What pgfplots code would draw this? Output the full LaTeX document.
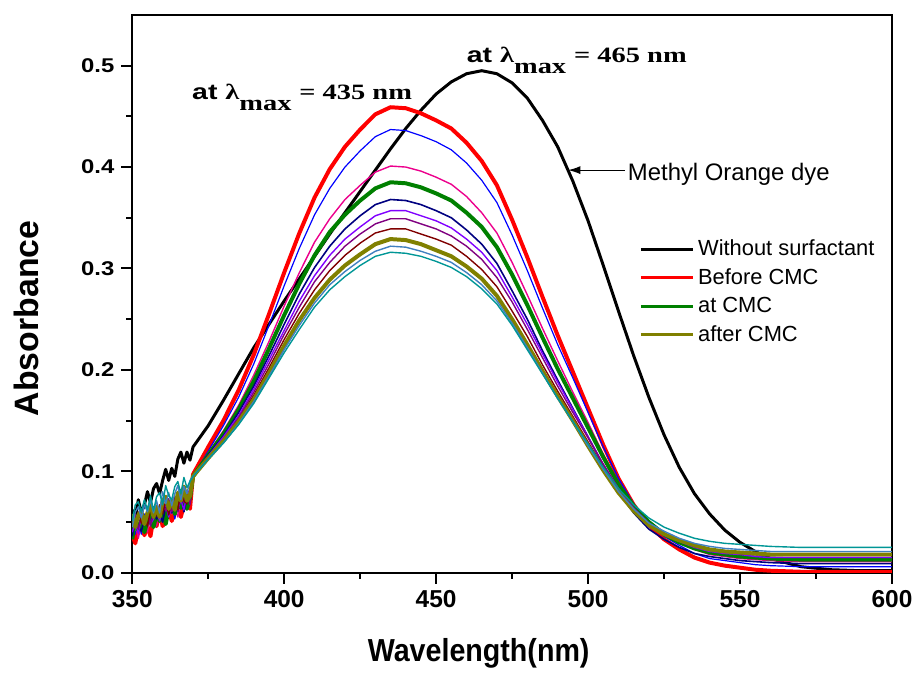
\documentclass[border=0pt]{standalone}
\usepackage{pgfplots}
\pgfplotsset{compat=1.18}
\usepackage{pgfplotstable}
\usepackage{fontspec}
\setmainfont{Liberation Sans}
\newfontfamily\serifw{Liberation Serif}[FakeStretch=1.3]
\newfontfamily\sansw{Liberation Sans}[FakeStretch=1.3]
\newfontfamily\ytickf{Liberation Sans}[FakeStretch=1.2]
\newfontfamily\labf{Liberation Sans}[FakeStretch=0.9]
\usetikzlibrary{arrows.meta}

\definecolor{cgreen}{RGB}{0,128,0}
\definecolor{cnavy}{RGB}{0,0,128}
\definecolor{cviolet}{RGB}{128,0,255}
\definecolor{cpurple}{RGB}{128,0,128}
\definecolor{cmaroon}{RGB}{128,0,0}
\definecolor{colive}{RGB}{128,128,0}
\definecolor{csteel}{RGB}{64,128,192}
\definecolor{cteal}{RGB}{0,150,150}

% k = ohne Tensid, r..t = mit Tensid (steigende Konzentration)
\pgfplotstableread{
wl  k     r     b     m     g     n     v     p     mr    o     s     t
350 0.062 0.038 0.050 0.035 0.033 0.036 0.040 0.049 0.056 0.058 0.045 0.051
351 0.055 0.029 0.038 0.049 0.053 0.056 0.049 0.058 0.044 0.045 0.060 0.067
352 0.072 0.044 0.049 0.034 0.042 0.045 0.039 0.043 0.060 0.057 0.065 0.070
353 0.059 0.049 0.038 0.048 0.052 0.041 0.056 0.056 0.049 0.060 0.054 0.060
354 0.067 0.037 0.058 0.052 0.040 0.054 0.048 0.049 0.056 0.048 0.067 0.072
355 0.080 0.046 0.047 0.040 0.051 0.059 0.062 0.062 0.046 0.059 0.060 0.062
356 0.069 0.036 0.057 0.060 0.060 0.047 0.048 0.046 0.062 0.068 0.072 0.076
357 0.083 0.054 0.045 0.049 0.045 0.063 0.053 0.060 0.065 0.055 0.059 0.061
358 0.088 0.046 0.056 0.046 0.059 0.053 0.065 0.066 0.056 0.065 0.071 0.075
359 0.078 0.061 0.065 0.058 0.051 0.059 0.051 0.055 0.067 0.055 0.059 0.079
360 0.091 0.046 0.050 0.064 0.065 0.050 0.064 0.068 0.058 0.071 0.080 0.067
361 0.102 0.052 0.064 0.051 0.048 0.065 0.067 0.061 0.071 0.075 0.068 0.086
362 0.091 0.064 0.056 0.068 0.063 0.069 0.055 0.073 0.057 0.063 0.079 0.076
363 0.103 0.051 0.070 0.058 0.068 0.059 0.066 0.060 0.070 0.071 0.066 0.072
364 0.095 0.063 0.053 0.064 0.058 0.071 0.075 0.072 0.075 0.062 0.078 0.085
365 0.112 0.067 0.068 0.055 0.070 0.061 0.062 0.060 0.062 0.079 0.086 0.090
366 0.119 0.055 0.074 0.070 0.064 0.075 0.072 0.081 0.082 0.071 0.072 0.078
367 0.108 0.067 0.063 0.074 0.075 0.060 0.062 0.069 0.071 0.085 0.085 0.094
368 0.119 0.075 0.076 0.064 0.063 0.074 0.078 0.080 0.068 0.071 0.078 0.084
369 0.111 0.063 0.069 0.076 0.074 0.078 0.082 0.067 0.080 0.076 0.091 0.090
370 0.124 0.097 0.095 0.095 0.095 0.095 0.095 0.095 0.095 0.095 0.095 0.095
375 0.145 0.124 0.120 0.118 0.116 0.116 0.115 0.114 0.114 0.113 0.112 0.112
380 0.170 0.150 0.145 0.140 0.137 0.135 0.134 0.132 0.131 0.130 0.128 0.128
385 0.196 0.180 0.173 0.165 0.161 0.158 0.155 0.153 0.151 0.149 0.147 0.146
390 0.222 0.215 0.206 0.195 0.189 0.184 0.181 0.178 0.175 0.171 0.169 0.167
395 0.245 0.255 0.244 0.228 0.221 0.214 0.210 0.206 0.202 0.197 0.194 0.192
400 0.268 0.296 0.283 0.263 0.254 0.245 0.239 0.235 0.230 0.224 0.220 0.217
405 0.290 0.335 0.320 0.296 0.285 0.275 0.268 0.262 0.256 0.249 0.244 0.240
410 0.312 0.370 0.353 0.326 0.313 0.301 0.293 0.287 0.279 0.271 0.266 0.262
415 0.334 0.398 0.379 0.349 0.336 0.322 0.313 0.306 0.298 0.289 0.284 0.279
420 0.355 0.420 0.400 0.368 0.353 0.339 0.329 0.322 0.313 0.303 0.297 0.292
425 0.376 0.437 0.416 0.382 0.367 0.352 0.341 0.334 0.325 0.314 0.308 0.303
430 0.397 0.452 0.430 0.395 0.379 0.363 0.352 0.344 0.335 0.324 0.317 0.312
435 0.418 0.459 0.437 0.401 0.385 0.368 0.357 0.349 0.339 0.329 0.322 0.316
440 0.438 0.458 0.436 0.400 0.384 0.367 0.357 0.349 0.339 0.328 0.321 0.315
445 0.456 0.453 0.431 0.396 0.380 0.363 0.352 0.344 0.334 0.324 0.317 0.312
450 0.472 0.446 0.425 0.390 0.374 0.357 0.347 0.339 0.329 0.318 0.312 0.307
455 0.484 0.438 0.417 0.383 0.367 0.350 0.340 0.332 0.323 0.312 0.306 0.301
460 0.492 0.424 0.404 0.371 0.355 0.338 0.329 0.322 0.312 0.302 0.296 0.292
465 0.495 0.406 0.387 0.355 0.341 0.324 0.316 0.309 0.299 0.290 0.284 0.280
470 0.492 0.382 0.365 0.335 0.321 0.305 0.298 0.291 0.282 0.273 0.268 0.265
475 0.483 0.348 0.333 0.306 0.294 0.278 0.272 0.267 0.258 0.250 0.246 0.244
480 0.468 0.311 0.298 0.274 0.264 0.250 0.245 0.240 0.233 0.225 0.222 0.220
485 0.446 0.272 0.261 0.241 0.232 0.219 0.216 0.212 0.205 0.199 0.197 0.196
490 0.420 0.234 0.225 0.209 0.201 0.190 0.188 0.184 0.179 0.174 0.172 0.172
495 0.386 0.198 0.192 0.178 0.172 0.162 0.161 0.158 0.154 0.150 0.149 0.149
500 0.347 0.162 0.158 0.148 0.143 0.134 0.134 0.133 0.129 0.125 0.125 0.127
505 0.303 0.126 0.124 0.117 0.114 0.106 0.107 0.107 0.104 0.101 0.102 0.104
510 0.258 0.093 0.093 0.089 0.087 0.080 0.083 0.083 0.080 0.079 0.080 0.083
515 0.214 0.067 0.068 0.067 0.066 0.059 0.063 0.064 0.062 0.061 0.063 0.067
520 0.173 0.047 0.049 0.050 0.050 0.043 0.048 0.049 0.048 0.047 0.049 0.054
525 0.136 0.033 0.036 0.038 0.038 0.033 0.038 0.039 0.038 0.038 0.041 0.045
530 0.104 0.023 0.027 0.029 0.030 0.025 0.031 0.032 0.032 0.032 0.034 0.039
535 0.078 0.015 0.019 0.023 0.024 0.019 0.025 0.027 0.026 0.027 0.029 0.034
540 0.058 0.010 0.014 0.018 0.020 0.016 0.021 0.023 0.023 0.023 0.026 0.031
545 0.042 0.007 0.012 0.016 0.018 0.014 0.019 0.021 0.021 0.021 0.024 0.029
550 0.030 0.005 0.010 0.014 0.016 0.012 0.018 0.020 0.019 0.020 0.023 0.028
555 0.021 0.003 0.008 0.013 0.015 0.011 0.016 0.018 0.018 0.019 0.022 0.027
560 0.014 0.002 0.007 0.012 0.014 0.010 0.015 0.017 0.017 0.018 0.021 0.026
570 0.006 0.001 0.006 0.011 0.013 0.009 0.015 0.017 0.017 0.018 0.021 0.025
580 0.003 0.001 0.006 0.011 0.013 0.009 0.015 0.017 0.017 0.018 0.021 0.025
590 0.002 0.001 0.006 0.011 0.013 0.009 0.015 0.017 0.017 0.018 0.021 0.025
600 0.002 0.001 0.006 0.011 0.013 0.009 0.015 0.017 0.017 0.018 0.021 0.025
}\spektren

\begin{document}
\begin{tikzpicture}
\begin{axis}[
    name=ax,
    scale only axis, width=382pt, height=280.5pt,
    xmin=350, xmax=600, ymin=0, ymax=0.55,
    xtick={350,400,450,500,550,600}, minor x tick num=1,
    ytick={0,0.1,0.2,0.3,0.4,0.5}, minor y tick num=1,
    tick align=outside, tick pos=left,
    major tick length=5.5pt, minor tick length=3pt,
    axis line style={line width=1pt},
    tick style={line width=1pt, black},
    /pgf/number format/assume math mode=true,
    yticklabel style={/pgf/number format/.cd, fixed, fixed zerofill, precision=1, /tikz/.cd,
        font=\ytickf\bfseries\fontsize{10}{12}\selectfont},
    xticklabel style={font=\bfseries\fontsize{12.3}{15}\selectfont},
    xlabel={Wavelength(nm)},
    xlabel style={font=\labf\bfseries\fontsize{16}{19}\selectfont,
        at={(axis description cs:0.456,-0.144)}, anchor=center},
    ylabel={Absorbance},
    ylabel style={font=\bfseries\fontsize{17}{20}\selectfont,
        at={(axis description cs:-0.139,0.456)}, anchor=center},
    legend style={at={(rel axis cs:0.659,0.612)}, anchor=north west,
        draw=none, fill=none, font=\fontsize{11}{13}\selectfont,
        row sep=1pt},
    legend cell align=left,
    legend image code/.code={\draw[#1, line width=1.6pt] (0pt,0pt) -- (26pt,0pt);},
    every axis plot/.append style={line join=round},
]
\addplot[black, line width=1.5pt] table[x=wl, y=k] {\spektren};
\addlegendentry{Without surfactant}
\addplot[red, line width=2pt] table[x=wl, y=r] {\spektren};
\addlegendentry{Before CMC}
\addplot[blue, line width=0.6pt, forget plot] table[x=wl, y=b] {\spektren};
\addplot[magenta, line width=0.7pt, forget plot] table[x=wl, y=m] {\spektren};
\addplot[cgreen, line width=2pt] table[x=wl, y=g] {\spektren};
\addlegendentry{at CMC}
\addplot[cnavy, line width=0.8pt, forget plot] table[x=wl, y=n] {\spektren};
\addplot[cviolet, line width=0.7pt, forget plot] table[x=wl, y=v] {\spektren};
\addplot[cpurple, line width=0.7pt, forget plot] table[x=wl, y=p] {\spektren};
\addplot[cmaroon, line width=0.7pt, forget plot] table[x=wl, y=mr] {\spektren};
\addplot[colive, line width=2pt] table[x=wl, y=o] {\spektren};
\addlegendentry{after CMC}
\addplot[csteel, line width=0.7pt, forget plot] table[x=wl, y=s] {\spektren};
\addplot[cteal, line width=0.7pt, forget plot] table[x=wl, y=t] {\spektren};

% Beschriftungen
\node[anchor=base west, inner sep=0pt, font=\fontsize{11}{13}\selectfont\bfseries]
    at (axis cs:369.6,0.467) {\sansw at {\serifw λ}\raisebox{-5.5pt}{\serifw max} {\serifw = 435 nm}};
\node[anchor=base west, inner sep=0pt, font=\fontsize{11}{13}\selectfont\bfseries]
    at (axis cs:460,0.503) {\sansw at {\serifw λ}\raisebox{-5.5pt}{\serifw max} {\serifw = 465 nm}};
\draw[-{Latex[length=6pt,width=4pt]}, line width=0.5pt] (axis cs:512,0.397) -- (axis cs:493.5,0.397);
\node[anchor=base west, inner sep=0pt, font=\fontsize{12}{14}\selectfont]
    at (axis cs:513,0.387) {Methyl Orange dye};
\end{axis}
\path (ax.south west) ++(-66.5pt,-50pt) coordinate (bl);
\path (ax.north east) ++(11pt,7.5pt) coordinate (tr);
\path (bl) rectangle (tr);
\end{tikzpicture}
\end{document}
